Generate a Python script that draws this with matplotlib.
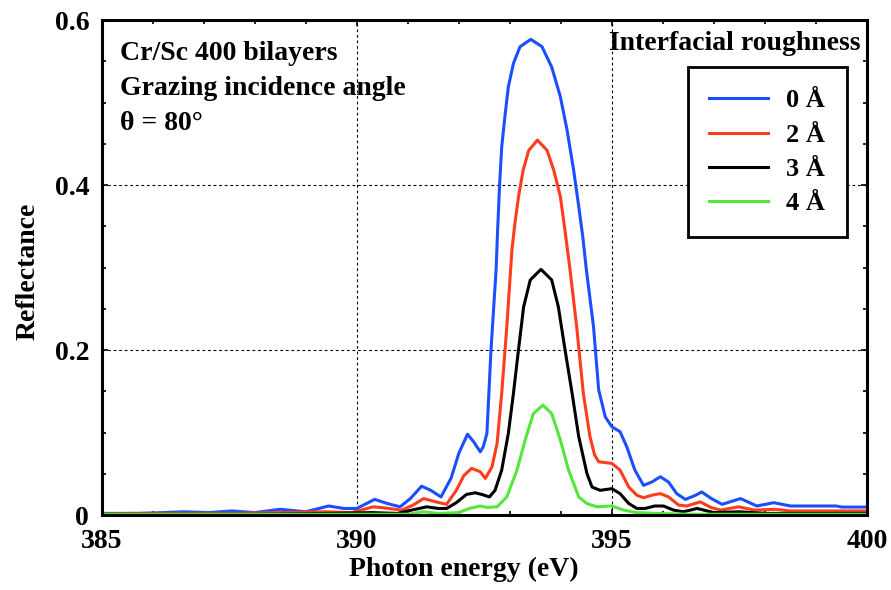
import matplotlib.pyplot as plt
from matplotlib.ticker import MultipleLocator, FixedLocator

# photon energy (eV), reflectance
e_0 = [385.0, 385.7, 386.2, 386.6, 387.1, 387.55, 388.0, 388.5, 389.0, 389.45, 389.75, 390.0,
       390.35, 390.6, 390.85, 391.05, 391.27, 391.45, 391.65, 391.85, 392.0, 392.17, 392.3,
       392.42, 392.48, 392.55, 392.63, 392.73, 392.76, 392.8, 392.84, 392.91, 392.97, 393.07,
       393.2, 393.41, 393.63, 393.82, 393.99, 394.12, 394.25, 394.35, 394.43, 394.5, 394.64,
       394.74, 394.87, 395.0, 395.16, 395.29, 395.45, 395.62, 395.78, 395.95, 396.11, 396.27,
       396.44, 396.64, 396.76, 396.95, 397.16, 397.52, 397.84, 398.17, 398.5, 399.4, 399.5,
       400.0]
r_0 = [0.002, 0.002, 0.003, 0.004, 0.003, 0.005, 0.003, 0.007, 0.004, 0.011, 0.008, 0.008,
       0.019, 0.014, 0.010, 0.020, 0.035, 0.030, 0.022, 0.045, 0.075, 0.098, 0.088,
       0.0767, 0.083, 0.099, 0.200, 0.297, 0.345, 0.402, 0.446, 0.487, 0.519, 0.5475,
       0.5677, 0.5766, 0.5677, 0.543, 0.507, 0.467, 0.418, 0.374, 0.337, 0.297, 0.228,
       0.152, 0.119, 0.107, 0.101, 0.083, 0.0545, 0.036, 0.040, 0.0464, 0.040, 0.026,
       0.019, 0.024, 0.028, 0.020, 0.013, 0.020, 0.011, 0.015, 0.011, 0.011, 0.0097,
       0.0097]

e_2 = [385.0, 385.5, 386.6, 387.5, 388.5, 389.4, 389.9, 390.32, 390.5, 390.88, 391.1, 391.31,
       391.55, 391.76, 391.95, 392.1, 392.25, 392.42, 392.52, 392.65, 392.75, 392.84, 392.94,
       393.04, 393.1, 393.17, 393.26, 393.37, 393.54, 393.73, 393.86, 393.99, 394.08, 394.18,
       394.31, 394.44, 394.57, 394.66, 394.74, 395.0, 395.16, 395.33, 395.49, 395.62, 395.78,
       395.95, 396.11, 396.31, 396.47, 396.73, 396.95, 397.13, 397.48, 397.8, 398.2, 398.5,
       400.0]
r_2 = [0.001, 0.002, 0.002, 0.002, 0.003, 0.004, 0.003, 0.010, 0.009, 0.006, 0.012, 0.020,
       0.016, 0.013, 0.030, 0.048, 0.0566, 0.0525, 0.0444, 0.0585, 0.087, 0.1475, 0.228,
       0.321, 0.354, 0.386, 0.418, 0.442, 0.4545, 0.442, 0.418, 0.386, 0.345, 0.297,
       0.228, 0.1475, 0.095, 0.073, 0.0646, 0.0626, 0.0545, 0.034, 0.024, 0.021, 0.024,
       0.026, 0.022, 0.012, 0.011, 0.016, 0.009, 0.006, 0.010, 0.006, 0.007, 0.005,
       0.005]

e_3 = [385.0, 386.0, 388.0, 389.5, 390.3, 390.8, 391.0, 391.37, 391.6, 391.76, 391.95, 392.15,
       392.32, 392.45, 392.6, 392.71, 392.84, 392.97, 393.07, 393.17, 393.27, 393.4, 393.61,
       393.82, 393.95, 394.08, 394.22, 394.35, 394.51, 394.61, 394.77, 395.0, 395.16, 395.33,
       395.49, 395.65, 395.84, 396.01, 396.21, 396.4, 396.67, 397.0, 397.5, 398.0, 400.0]
r_3 = [0.001, 0.001, 0.001, 0.002, 0.003, 0.002, 0.005, 0.010, 0.008, 0.008, 0.015, 0.025,
       0.027, 0.025, 0.022, 0.030, 0.0545, 0.099, 0.1475, 0.2008, 0.2525, 0.285, 0.2978,
       0.285, 0.2525, 0.2008, 0.1475, 0.095, 0.0505, 0.034, 0.030, 0.032, 0.026, 0.014,
       0.008, 0.008, 0.011, 0.011, 0.006, 0.004, 0.008, 0.003, 0.004, 0.002, 0.002]

e_4 = [385.0, 391.0, 391.3, 391.6, 392.0, 392.2, 392.42, 392.55, 392.75, 392.94, 393.14, 393.3,
       393.46, 393.65, 393.82, 393.99, 394.15, 394.35, 394.51, 394.71, 395.0, 395.23, 395.49,
       395.9, 396.5, 400.0]
r_4 = [0.001, 0.001, 0.004, 0.002, 0.003, 0.008, 0.011, 0.0093, 0.010, 0.022, 0.0545, 0.091,
       0.123, 0.1333, 0.123, 0.091, 0.0545, 0.022, 0.014, 0.010, 0.011, 0.006, 0.003,
       0.002, 0.001, 0.001]

labels = ['0 Å', '2 Å', '3 Å', '4 Å']
colors = ['#1a4fff', '#ff3c1e', '#000000', '#55e63c']

plt.rcParams['font.family'] = ['Liberation Serif', 'DejaVu Serif']
plt.rcParams['font.weight'] = 'bold'

fig = plt.figure(figsize=(8.91, 5.90), dpi=100)
ax = fig.add_axes([0.1141, 0.127, 0.859, 0.839])

for e, r, lab, c in zip([e_0, e_2, e_3, e_4], [r_0, r_2, r_3, r_4], labels, colors):
    ax.plot(e, r, color=c, lw=2.2, label=lab, solid_joinstyle='round')

ax.set_xlim(385, 400)
ax.set_ylim(0, 0.6)
ax.xaxis.set_major_locator(FixedLocator([385, 390, 395, 400]))
ax.xaxis.set_minor_locator(MultipleLocator(1))
ax.yaxis.set_major_locator(FixedLocator([0, 0.2, 0.4, 0.6]))
ax.yaxis.set_minor_locator(MultipleLocator(0.05))
ax.set_yticklabels(['0', '0.2', '0.4', '0.6'])
ax.tick_params(which='both', direction='in', top=True, right=True, width=1.2, labelsize=20)
ax.tick_params(which='major', length=4)
ax.tick_params(which='minor', length=3)
ax.tick_params(axis='x', pad=10)
ax.tick_params(axis='y', pad=9)
for s in ax.spines.values():
    s.set_linewidth(2.2)
ax.grid(True, which='major', color='black', lw=0.8, linestyle=(0, (2.5, 2.5)))

ax.set_xlabel('Photon energy (eV)', fontsize=20, fontweight='bold')
ax.set_ylabel('Reflectance', fontsize=20, fontweight='bold')
ax.xaxis.set_label_coords(0.473, -0.085)
ax.yaxis.set_label_coords(-0.08, 0.492)

ax.text(0.024, 0.957, 'Cr/Sc 400 bilayers', transform=ax.transAxes, fontsize=20,
        fontweight='bold', va='top', ha='left')
ax.text(0.024, 0.887, 'Grazing incidence angle', transform=ax.transAxes, fontsize=20,
        fontweight='bold', va='top', ha='left')
ax.text(0.024, 0.817, 'θ = 80°', transform=ax.transAxes, fontsize=20,
        fontweight='bold', va='top', ha='left')
ax.text(0.991, 0.977, 'Interfacial roughness', transform=ax.transAxes, fontsize=20,
        fontweight='bold', va='top', ha='right')

leg = ax.legend(loc='upper right', bbox_to_anchor=(0.974, 0.905), borderaxespad=0,
                fontsize=19, handlelength=2.23, handletextpad=0.68, labelspacing=0.41,
                borderpad=0.83, fancybox=False, framealpha=1, edgecolor='black')
leg.get_frame().set_linewidth(2)

fig.savefig('out.png', dpi=100)
